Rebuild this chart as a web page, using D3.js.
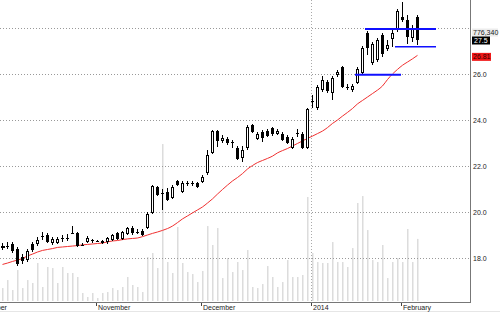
<!DOCTYPE html>
<html>
<head>
<meta charset="utf-8">
<script src="https://cdn.jsdelivr.net/npm/d3@7"></script>
<style>
  body { margin: 0; background: #fff; }
  svg { display: block; font-family: "Liberation Sans", Arial, sans-serif; }
  .lbl { font-size: 7px; fill: #222; }
</style>
</head>
<body>
<div id="chart"></div>
<script>
// daily bars, index 0 = first visible session (early October)
var open = [
  18.46, 18.52, 18.61, 18.39, 18.04, 17.91, 18.61, 18.61, 18.96, 19.00,
  18.65, 18.65, 18.87, 18.87, 19.09, 19.09, 18.57, 18.70, 18.78, 18.74,
  18.74, 18.70, 18.78, 19.09, 18.83, 19.04, 19.30, 19.13, 19.17, 19.30,
  19.96, 21.09, 20.83, 20.87, 20.61, 21.35, 20.87, 21.26, 21.26, 21.26,
  21.30, 21.70, 22.57, 23.52, 23.09, 23.17, 23.04, 22.78, 22.35, 22.78,
  23.78, 23.17, 23.48, 23.52, 23.65, 23.39, 23.39, 23.26, 22.78, 23.43,
  23.39, 22.78, 24.83, 24.52, 25.30, 25.65, 25.17, 25.96, 26.30, 25.43,
  25.30, 25.61, 26.04, 27.78, 26.48, 26.61, 27.70, 27.09, 27.52, 27.91,
  28.48, 28.35, 27.57, 28.48];
var high = [
  18.65, 18.70, 18.70, 18.48, 18.17, 18.39, 18.70, 18.91, 19.13, 19.09,
  18.91, 18.91, 19.00, 19.04, 19.39, 19.13, 18.65, 18.96, 18.83, 18.78,
  18.78, 18.91, 19.04, 19.13, 19.17, 19.35, 19.39, 19.26, 19.26, 20.00,
  21.17, 21.13, 21.00, 21.04, 21.17, 21.39, 21.35, 21.35, 21.35, 21.30,
  21.61, 22.70, 23.57, 23.57, 23.35, 23.26, 23.13, 22.87, 22.87, 23.78,
  23.83, 23.48, 23.57, 23.61, 23.70, 23.61, 23.48, 23.35, 23.26, 23.61,
  23.48, 24.52, 25.09, 25.52, 25.91, 25.74, 25.91, 26.17, 26.35, 25.57,
  25.57, 26.30, 27.22, 27.87, 27.39, 27.57, 27.78, 27.48, 28.00, 28.83,
  29.13, 28.57, 28.13, 28.57];
var low = [
  18.35, 18.39, 18.22, 17.65, 17.74, 17.83, 18.26, 18.52, 18.78, 18.65,
  18.57, 18.61, 18.70, 18.74, 19.04, 18.48, 18.52, 18.65, 18.65, 18.70,
  18.61, 18.61, 18.74, 18.78, 18.78, 19.00, 19.00, 19.04, 18.96, 19.26,
  19.91, 20.70, 20.09, 20.48, 20.57, 21.13, 20.83, 21.13, 21.13, 21.04,
  21.26, 21.61, 22.52, 22.83, 23.00, 22.91, 22.78, 22.26, 22.17, 22.70,
  23.43, 23.13, 23.04, 23.26, 23.30, 23.35, 23.09, 22.96, 22.74, 23.26,
  22.74, 22.74, 24.52, 24.43, 25.22, 25.17, 24.87, 25.87, 25.39, 25.30,
  25.22, 25.57, 26.00, 26.83, 26.39, 26.52, 26.74, 27.00, 27.17, 27.83,
  28.26, 27.30, 27.39, 27.26];
var close = [
  18.54, 18.52, 18.30, 17.74, 17.87, 18.30, 18.35, 18.78, 18.96, 18.70,
  18.83, 18.83, 18.87, 18.87, 19.09, 18.52, 18.57, 18.87, 18.78, 18.74,
  18.65, 18.87, 19.00, 18.83, 19.13, 19.30, 19.09, 19.13, 19.00, 19.91,
  21.13, 20.74, 20.83, 20.52, 21.09, 21.17, 21.26, 21.26, 21.26, 21.09,
  21.52, 22.48, 23.52, 23.09, 23.22, 23.00, 23.04, 22.30, 22.70, 23.70,
  23.48, 23.39, 23.22, 23.30, 23.39, 23.52, 23.13, 23.00, 23.17, 23.43,
  22.78, 24.48, 24.83, 25.43, 25.74, 25.26, 25.83, 26.09, 25.43, 25.43,
  25.48, 26.22, 27.13, 27.13, 27.30, 27.48, 26.87, 27.26, 27.78, 28.74,
  28.35, 27.61, 27.96, 27.50];
var volume = [
  162000, 262000, 137000, 387000, 162000, 262000, 225000, 475000, 175000, 425000,
  412000, 225000, 425000, 350000, 350000, 300000, 100000, 50000, 100000, 37000,
  100000, 112000, 162000, 137000, 175000, 300000, 200000, 175000, 112000, 550000,
  600000, 412000, 1962000, 487000, 350000, 925000, 475000, 362000, 337000, 237000,
  375000, 937000, 700000, 912000, 287000, 537000, 362000, 487000, 387000, 637000,
  175000, 162000, 212000, 437000, 300000, 175000, 237000, 512000, 300000, 300000,
  325000, 1300000, 600000, 487000, 475000, 475000, 737000, 487000, 487000, 425000,
  662000, 1225000, 1312000, 887000, 512000, 487000, 700000, 287000, 487000, 537000,
  487000, 900000, 487000, 776340];
// moving average (red line)
var ma = [
  17.72, 17.78, 17.85, 17.91, 17.98, 18.09, 18.17, 18.26, 18.33, 18.37,
  18.41, 18.46, 18.48, 18.50, 18.52, 18.54, 18.57, 18.59, 18.61, 18.63,
  18.65, 18.70, 18.74, 18.76, 18.80, 18.83, 18.85, 18.87, 18.93, 19.00,
  19.07, 19.13, 19.20, 19.28, 19.39, 19.54, 19.70, 19.83, 19.96, 20.09,
  20.22, 20.39, 20.57, 20.78, 20.98, 21.17, 21.35, 21.50, 21.67, 21.87,
  22.02, 22.15, 22.24, 22.33, 22.43, 22.57, 22.67, 22.76, 22.87, 22.98,
  23.09, 23.20, 23.30, 23.41, 23.52, 23.67, 23.85, 24.00, 24.17, 24.33,
  24.50, 24.70, 24.85, 25.00, 25.15, 25.30, 25.48, 25.76, 26.00, 26.20,
  26.38, 26.52, 26.66, 26.81];

// horizontal blue levels
var levelPrice = [27.96, 27.19, 25.97];
var levelFrom = [73, 79, 71];
var levelTo = [87, 87, 80];

var monthLabels = ["October", "November", "December", "2014", "February"];
var monthIndex = [-4.2, 19, 40, 62, 80];
var gridPrices = [18, 20, 22, 24, 26, 28];
var priceLabels = [18, 20, 22, 24, 26];

var W = 500, H = 312;
var plotRight = 470, plotBottom = 302;

var x = d3.scaleLinear().domain([0, 83]).range([2, 417]);
var y = d3.scaleLinear().domain([18, 28]).range([258, 28]);
var yVol = d3.scaleLinear().domain([0, 2000000]).range([301, 141]);

var svg = d3.select("#chart").append("svg")
  .attr("width", W).attr("height", H);

svg.append("clipPath").attr("id", "clip")
  .append("rect").attr("x", 0).attr("y", 0)
  .attr("width", plotRight).attr("height", plotBottom);

var g = svg.append("g").attr("clip-path", "url(#clip)");

// volume bars
g.selectAll(".vol").data(volume).enter().append("rect")
  .attr("x", function(d, i) { return Math.round(x(i)); })
  .attr("width", 1.5)
  .attr("y", function(d) { return yVol(d); })
  .attr("height", function(d) { return yVol(0) - yVol(d); })
  .style("fill", "#dcdcdc");

// dotted grid
g.selectAll(".grid").data(gridPrices).enter().append("line")
  .attr("x1", 0).attr("x2", plotRight)
  .attr("y1", function(d) { return Math.round(y(d)) + 0.5; })
  .attr("y2", function(d) { return Math.round(y(d)) + 0.5; })
  .style("stroke", "#999").style("stroke-width", 1)
  .style("stroke-dasharray", "1,2");

// year separator
var xYear = Math.round(x(monthIndex[3])) - 1 + 0.5;
g.append("line").attr("x1", xYear).attr("x2", xYear)
  .attr("y1", 0).attr("y2", plotBottom)
  .style("stroke", "#aaa").style("stroke-dasharray", "1,2");

// moving average
var maLine = d3.line()
  .x(function(d, i) { return x(i) + 0.5; })
  .y(function(d) { return y(d); })
  .curve(d3.curveMonotoneX);
g.append("path").datum(ma)
  .attr("d", maLine)
  .style("fill", "none").style("stroke", "#f03030").style("stroke-width", 1);

// candles
var idx = d3.range(open.length);
var candle = g.selectAll(".candle").data(idx).enter().append("g")
  .style("shape-rendering", "crispEdges");

candle.append("line")
  .attr("x1", function(i) { return Math.round(x(i)) + 0.5; })
  .attr("x2", function(i) { return Math.round(x(i)) + 0.5; })
  .attr("y1", function(i) { return Math.round(y(high[i])); })
  .attr("y2", function(i) { return Math.round(y(low[i])); })
  .style("stroke", "#000").style("stroke-width", 1);

candle.each(function(i) {
  var c = Math.round(x(i));
  var top = Math.round(y(Math.max(open[i], close[i])));
  var bot = Math.round(y(Math.min(open[i], close[i])));
  var sel = d3.select(this);
  if (bot - top < 2) {
    sel.append("rect").attr("x", c - 1).attr("y", top).attr("width", 3)
      .attr("height", Math.max(1, bot - top))
      .style("fill", close[i] >= open[i] && bot - top > 0 ? "#fff" : "#000")
      .style("stroke", bot - top > 0 ? "#000" : "none");
  } else if (close[i] >= open[i]) {
    sel.append("rect").attr("x", c - 0.5).attr("y", top + 0.5)
      .attr("width", 2).attr("height", bot - top - 1)
      .style("fill", "#fff").style("stroke", "#000").style("stroke-width", 1);
  } else {
    sel.append("rect").attr("x", c - 1).attr("y", top)
      .attr("width", 3).attr("height", bot - top)
      .style("fill", "#000");
  }
});

// blue levels
g.selectAll(".level").data(levelPrice).enter().append("line")
  .attr("x1", function(d, i) { return x(levelFrom[i]) - 2; })
  .attr("x2", function(d, i) { return x(levelTo[i]) - 1; })
  .attr("y1", function(d) { return y(d); })
  .attr("y2", function(d) { return y(d); })
  .style("stroke", "#1010ff")
  .style("stroke-width", function(d, i) { return i === 1 ? 1.5 : 2; });

// axes frame
svg.append("line").attr("x1", plotRight + 0.5).attr("x2", plotRight + 0.5)
  .attr("y1", 0).attr("y2", plotBottom + 1)
  .style("stroke", "#777");
svg.append("line").attr("x1", 0).attr("x2", plotRight + 1)
  .attr("y1", plotBottom + 0.5).attr("y2", plotBottom + 0.5)
  .style("stroke", "#777");
svg.append("line").attr("x1", 0).attr("x2", W)
  .attr("y1", H - 0.5).attr("y2", H - 0.5)
  .style("stroke", "#e6e6e6");

// price labels
svg.selectAll(".plbl").data(priceLabels).enter().append("text")
  .attr("class", "lbl")
  .attr("x", 473)
  .attr("y", function(d) { return y(d) + 2.5; })
  .text(function(d) { return d3.format(".1f")(d); });

// month ticks and labels
monthIndex.forEach(function(m, k) {
  var tx = Math.round(x(m)) - 1 + 0.5;
  svg.append("line").attr("x1", tx).attr("x2", tx)
    .attr("y1", plotBottom + 1).attr("y2", plotBottom + 4)
    .style("stroke", "#444");
  svg.append("text").attr("class", "lbl")
    .attr("x", tx + 1.5).attr("y", 309.5)
    .text(monthLabels[k]);
});

// last-value markers on the right
var last = open.length - 1;
svg.append("rect").attr("x", 472).attr("y", 28.5).attr("width", 26).attr("height", 8)
  .style("fill", "#ececec");
svg.append("text").attr("class", "lbl").attr("x", 473).attr("y", 35)
  .text(d3.format(",")(volume[last]));

var yc = y(close[last]) + 1;
svg.append("rect").attr("x", 472).attr("y", yc - 4).attr("width", 18).attr("height", 8)
  .style("fill", "#000");
svg.append("text").attr("class", "lbl").attr("x", 474).attr("y", yc + 2.5)
  .style("fill", "#fff")
  .text(d3.format(".1f")(close[last]));

var ym = y(ma[last]) + 1.5;
svg.append("rect").attr("x", 472).attr("y", ym - 4).attr("width", 19).attr("height", 8)
  .style("fill", "#f01818");
svg.append("text").attr("class", "lbl").attr("x", 473).attr("y", ym + 2.5)
  .style("fill", "#300")
  .text(d3.format(".2f")(ma[last]));
</script>
</body>
</html>
